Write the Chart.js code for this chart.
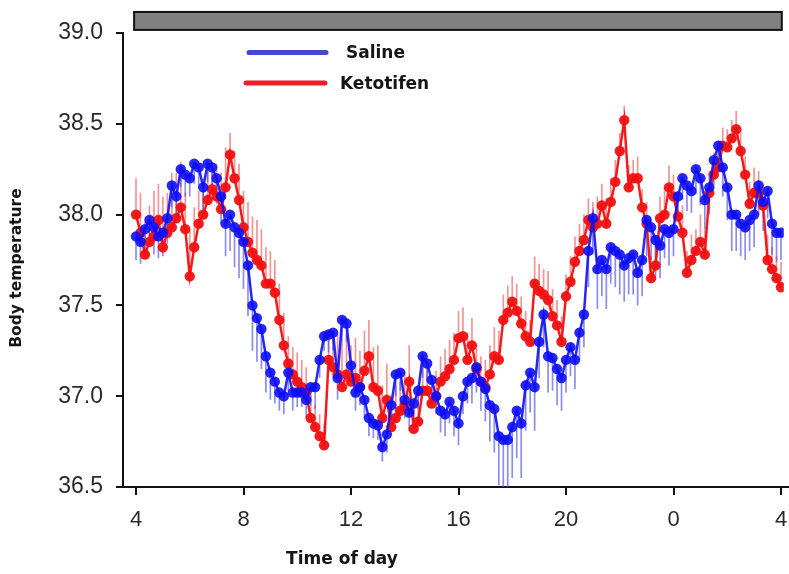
<!DOCTYPE html>
<html>
<head>
<meta charset="utf-8">
<script src="https://cdn.jsdelivr.net/npm/chart.js@4/dist/chart.umd.min.js"></script>
<style>
  html, body { margin: 0; padding: 0; background: #ffffff; }
  #wrap { width: 789px; height: 574px; }
</style>
</head>
<body>
<div id="wrap"><canvas id="c" width="789" height="574"></canvas></div>
<script>
// ---------------- data ----------------
const startHour = 4;          // first sample, 04:00
const sampleMinutes = 10;     // sampling interval
const seriesNames = ['Saline', 'Ketotifen'];

const salineMean = [
  37.88,37.85,37.92,37.97,37.93,37.88,37.90,37.98,38.16,38.10,
  38.25,38.22,38.20,38.28,38.26,38.15,38.28,38.26,38.20,38.10,
  37.95,38.00,37.93,37.90,37.85,37.72,37.50,37.43,37.37,37.22,
  37.13,37.08,37.02,37.00,37.13,37.02,37.02,37.02,36.98,37.05,
  37.05,37.20,37.33,37.34,37.35,37.10,37.42,37.40,37.17,37.02,
  37.05,36.98,36.88,36.85,36.84,36.72,36.79,36.95,37.12,37.13,
  36.98,36.91,36.96,37.03,37.22,37.18,37.09,37.00,36.92,36.90,
  36.97,36.92,36.85,37.00,37.08,37.10,37.16,37.08,37.04,36.95,
  36.93,36.78,36.76,36.76,36.83,36.92,36.85,37.06,37.13,37.05,
  37.30,37.45,37.22,37.21,37.15,37.10,37.20,37.27,37.20,37.35,
  37.45,37.80,37.98,37.70,37.75,37.70,37.82,37.80,37.78,37.72,
  37.76,37.78,37.68,37.75,37.97,37.93,37.86,37.83,37.92,37.90,
  37.92,38.10,38.20,38.16,38.13,38.25,38.20,38.08,38.15,38.30,
  38.38,38.26,38.15,38.00,38.00,37.95,37.93,37.97,38.00,38.16,
  38.07,38.13,37.95,37.90,37.90
];
const salineErr = [
  0.13,0.12,0.14,0.12,0.15,0.12,0.13,0.14,0.12,0.13,
  0.10,0.12,0.10,0.11,0.10,0.12,0.10,0.10,0.14,0.15,
  0.18,0.20,0.22,0.25,0.26,0.28,0.25,0.24,0.22,0.20,
  0.15,0.12,0.10,0.10,0.10,0.10,0.08,0.08,0.10,0.10,
  0.12,0.10,0.08,0.10,0.10,0.12,0.12,0.10,0.10,0.10,
  0.10,0.10,0.10,0.08,0.08,0.08,0.10,0.10,0.12,0.10,
  0.10,0.10,0.10,0.10,0.12,0.10,0.10,0.10,0.12,0.12,
  0.12,0.14,0.12,0.10,0.12,0.14,0.14,0.16,0.18,0.20,
  0.24,0.27,0.30,0.30,0.28,0.26,0.30,0.25,0.22,0.24,
  0.20,0.18,0.20,0.18,0.20,0.18,0.18,0.16,0.16,0.15,
  0.18,0.20,0.20,0.22,0.20,0.22,0.20,0.20,0.22,0.20,
  0.20,0.22,0.18,0.20,0.20,0.18,0.20,0.18,0.16,0.18,
  0.15,0.14,0.12,0.14,0.12,0.14,0.15,0.16,0.15,0.14,
  0.14,0.16,0.18,0.20,0.20,0.18,0.18,0.17,0.18,0.16,
  0.16,0.15,0.17,0.16,0.15
];
const ketotifenMean = [
  38.00,37.90,37.78,37.85,37.88,37.97,37.82,37.90,37.93,37.98,
  38.04,37.92,37.66,37.82,37.95,38.00,38.08,38.14,38.10,38.03,
  38.15,38.33,38.20,38.08,37.93,37.85,37.79,37.75,37.72,37.62,
  37.62,37.57,37.42,37.28,37.18,37.12,37.08,37.05,37.02,36.88,
  36.83,36.78,36.73,37.20,37.16,37.12,37.05,37.12,37.08,37.10,
  37.05,37.14,37.22,37.05,37.03,36.88,36.98,36.83,36.88,36.92,
  36.95,37.08,36.82,36.86,37.03,37.03,36.96,37.00,37.08,37.11,
  37.15,37.20,37.32,37.33,37.20,37.28,37.15,37.08,37.05,37.12,
  37.22,37.20,37.42,37.46,37.52,37.47,37.40,37.33,37.30,37.62,
  37.58,37.56,37.53,37.44,37.39,37.30,37.55,37.63,37.74,37.80,
  37.86,37.97,37.93,37.95,38.05,37.95,38.07,38.18,38.35,38.52,
  38.15,38.20,38.20,38.04,37.95,37.65,37.72,37.98,38.00,38.15,
  38.10,37.99,37.90,37.68,37.75,37.80,37.85,37.78,38.12,38.22,
  38.26,38.38,38.37,38.42,38.47,38.35,38.22,38.06,38.12,38.12,
  38.05,37.75,37.70,37.65,37.60
];
const ketotifenErr = [
  0.20,0.22,0.18,0.20,0.25,0.20,0.28,0.22,0.30,0.25,
  0.25,0.20,0.25,0.22,0.18,0.20,0.20,0.15,0.18,0.20,
  0.22,0.12,0.15,0.20,0.20,0.22,0.20,0.22,0.20,0.20,
  0.18,0.18,0.20,0.18,0.15,0.15,0.16,0.15,0.14,0.12,
  0.12,0.12,0.12,0.15,0.20,0.22,0.25,0.22,0.20,0.22,
  0.20,0.22,0.20,0.22,0.25,0.18,0.20,0.18,0.18,0.16,
  0.18,0.20,0.16,0.20,0.15,0.16,0.15,0.14,0.14,0.15,
  0.16,0.15,0.15,0.16,0.15,0.15,0.12,0.14,0.15,0.16,
  0.16,0.16,0.14,0.15,0.14,0.15,0.15,0.14,0.12,0.15,
  0.15,0.14,0.16,0.15,0.14,0.14,0.12,0.14,0.14,0.15,
  0.14,0.12,0.14,0.15,0.12,0.14,0.13,0.12,0.10,0.08,
  0.12,0.10,0.12,0.10,0.12,0.12,0.14,0.12,0.15,0.12,
  0.12,0.14,0.15,0.12,0.14,0.12,0.15,0.14,0.12,0.12,
  0.12,0.10,0.10,0.10,0.10,0.12,0.10,0.12,0.14,0.12,
  0.12,0.14,0.12,0.12,0.14
];

const xTickHours  = [4, 8, 12, 16, 20, 24, 28];
const xTickLabels = ['4', '8', '12', '16', '20', '0', '4'];
const yTickValues = [36.5, 37.0, 37.5, 38.0, 38.5, 39.0];
const yTickLabels = ['36.5', '37.0', '37.5', '38.0', '38.5', '39.0'];
const lightBarHours = [3.93, 28.03];   // grey bar across the top
const xTitle = 'Time of day';
const yTitle = 'Body temperature';

// target pixel placement of the first and last x tick (layout only)
const X_FIRST_PX = 136, X_LAST_PX = 781;

// ---------------- build points ----------------
function toPoints(vals) {
  return vals.map((v, i) => ({ x: startHour + i * sampleMinutes / 60, y: v }));
}

const BLUE = 'rgba(14,14,245,0.9)';
const RED = 'rgba(242,16,16,0.95)';
const BLUE_BAR = 'rgba(80,80,225,0.65)';
const RED_BAR = 'rgba(228,80,80,0.6)';

const errorBarPlugin = {
  id: 'errorBars',
  beforeDatasetsDraw(chart) {
    const ctx = chart.ctx, y = chart.scales.y, a = chart.chartArea;
    ctx.save();
    ctx.beginPath();
    ctx.rect(a.left, a.top - 2, a.right - a.left, a.bottom - a.top + 2);
    ctx.clip();
    ctx.lineWidth = 1.7;
    const sets = [
      { idx: 1, err: ketotifenErr, vals: ketotifenMean, dir: 1, col: RED_BAR },
      { idx: 0, err: salineErr, vals: salineMean, dir: -1, col: BLUE_BAR }
    ];
    sets.forEach(s => {
      const meta = chart.getDatasetMeta(s.idx);
      ctx.strokeStyle = s.col;
      meta.data.forEach((el, i) => {
        const yEnd = y.getPixelForValue(s.vals[i] + s.dir * s.err[i]);
        ctx.beginPath();
        ctx.moveTo(el.x, el.y);
        ctx.lineTo(el.x, yEnd);
        ctx.stroke();
      });
    });
    ctx.restore();
  }
};

const decorPlugin = {
  id: 'decor',
  afterDraw(chart) {
    const ctx = chart.ctx, xs = chart.scales.x, ys = chart.scales.y;
    const a = chart.chartArea;
    ctx.save();
    // grey bar at top
    const bx0 = xs.getPixelForValue(lightBarHours[0]);
    const bx1 = xs.getPixelForValue(lightBarHours[1]);
    const by0 = ys.getPixelForValue(39.116);
    const by1 = ys.getPixelForValue(39.017);
    ctx.fillStyle = '#808080';
    ctx.fillRect(bx0, by0, bx1 - bx0, by1 - by0);
    ctx.strokeStyle = '#111';
    ctx.lineWidth = 2;
    ctx.strokeRect(bx0, by0, bx1 - bx0, by1 - by0);

    // x axis line extends slightly left of the y axis and to the right edge
    ctx.beginPath();
    ctx.moveTo(118, a.bottom);
    ctx.lineTo(a.left, a.bottom);
    ctx.moveTo(a.right - 1, a.bottom);
    ctx.lineTo(chart.width, a.bottom);
    ctx.stroke();

    // legend
    ctx.lineCap = 'round';
    ctx.lineWidth = 5;
    ctx.strokeStyle = '#4646d4';
    ctx.beginPath(); ctx.moveTo(249, 52.5); ctx.lineTo(326, 52.5); ctx.stroke();
    ctx.strokeStyle = '#e8202a';
    ctx.beginPath(); ctx.moveTo(246, 83); ctx.lineTo(325, 83); ctx.stroke();
    ctx.fillStyle = '#161616';
    ctx.font = 'bold 17px "DejaVu Sans"';
    ctx.textBaseline = 'middle';
    ctx.textAlign = 'left';
    ctx.fillText(seriesNames[0], 346, 54);
    ctx.fillText(seriesNames[1], 340, 85);

    // axis titles
    ctx.font = 'bold 17px "DejaVu Sans"';
    ctx.textAlign = 'center';
    ctx.fillText(xTitle, 342, 560);
    ctx.translate(17, 268);
    ctx.rotate(-Math.PI / 2);
    ctx.font = 'bold 15.5px "DejaVu Sans"';
    ctx.fillText(yTitle, 0, 0);
    ctx.restore();
  }
};

const chart = new Chart(document.getElementById('c'), {
  type: 'line',
  data: {
    datasets: [
      {
        label: seriesNames[0],
        data: toPoints(salineMean),
        borderColor: BLUE,
        backgroundColor: BLUE,
        pointBackgroundColor: BLUE,
        pointBorderColor: BLUE,
        pointBorderWidth: 0,
        pointRadius: 5.2,
        borderWidth: 2.5,
        tension: 0
      },
      {
        label: seriesNames[1],
        data: toPoints(ketotifenMean),
        borderColor: RED,
        backgroundColor: RED,
        pointBackgroundColor: RED,
        pointBorderColor: RED,
        pointBorderWidth: 0,
        pointRadius: 5.2,
        borderWidth: 2.5,
        tension: 0
      }
    ]
  },
  options: {
    responsive: false,
    animation: false,
    layout: { padding: { top: 33, right: 0, left: 0, bottom: 0 } },
    plugins: { legend: { display: false }, tooltip: { enabled: false } },
    scales: {
      x: {
        type: 'linear',
        min: 3.516,
        max: 28.3,
        afterBuildTicks: s => { s.ticks = xTickHours.map(v => ({ value: v })); },
        afterFit: s => { s.height = 87; s.paddingLeft = 0; s.paddingRight = 0; },
        ticks: {
          autoSkip: false,
          maxRotation: 0,
          padding: 12,
          color: '#2a2a2a',
          font: { family: '"Liberation Sans", Arial, sans-serif', size: 22 },
          callback: (v) => { const k = xTickHours.indexOf(v); return k >= 0 ? xTickLabels[k] : ''; }
        },
        grid: { display: true, drawOnChartArea: false, drawTicks: true, tickLength: 8, color: '#111', lineWidth: 2 },
        border: { display: true, color: '#111', width: 2 }
      },
      y: {
        type: 'linear',
        min: 36.5,
        max: 39.0,
        afterBuildTicks: s => { s.ticks = yTickValues.map(v => ({ value: v })); },
        afterFit: s => { s.width = 123; s.paddingTop = 0; s.paddingBottom = 0; },
        ticks: {
          padding: 13,
          color: '#2a2a2a',
          font: { family: '"Liberation Sans", Arial, sans-serif', size: 23 },
          callback: (v) => { const k = yTickValues.findIndex(t => Math.abs(t - v) < 1e-6); return k >= 0 ? yTickLabels[k] : ''; }
        },
        grid: { display: true, drawOnChartArea: false, drawTicks: true, tickLength: 7, color: '#111', lineWidth: 2 },
        border: { display: true, color: '#111', width: 2 }
      }
    }
  },
  plugins: [errorBarPlugin, decorPlugin]
});

// calibrate the x range so the first/last ticks land where the reference has them
(function calibrate() {
  const a = chart.chartArea;
  const first = xTickHours[0], last = xTickHours[xTickHours.length - 1];
  const pxPerHour = (X_LAST_PX - X_FIRST_PX) / (last - first);
  chart.options.scales.x.min = first - (X_FIRST_PX - a.left) / pxPerHour;
  chart.options.scales.x.max = last + (a.right - X_LAST_PX) / pxPerHour;
  chart.update('none');
})();
</script>
</body>
</html>
